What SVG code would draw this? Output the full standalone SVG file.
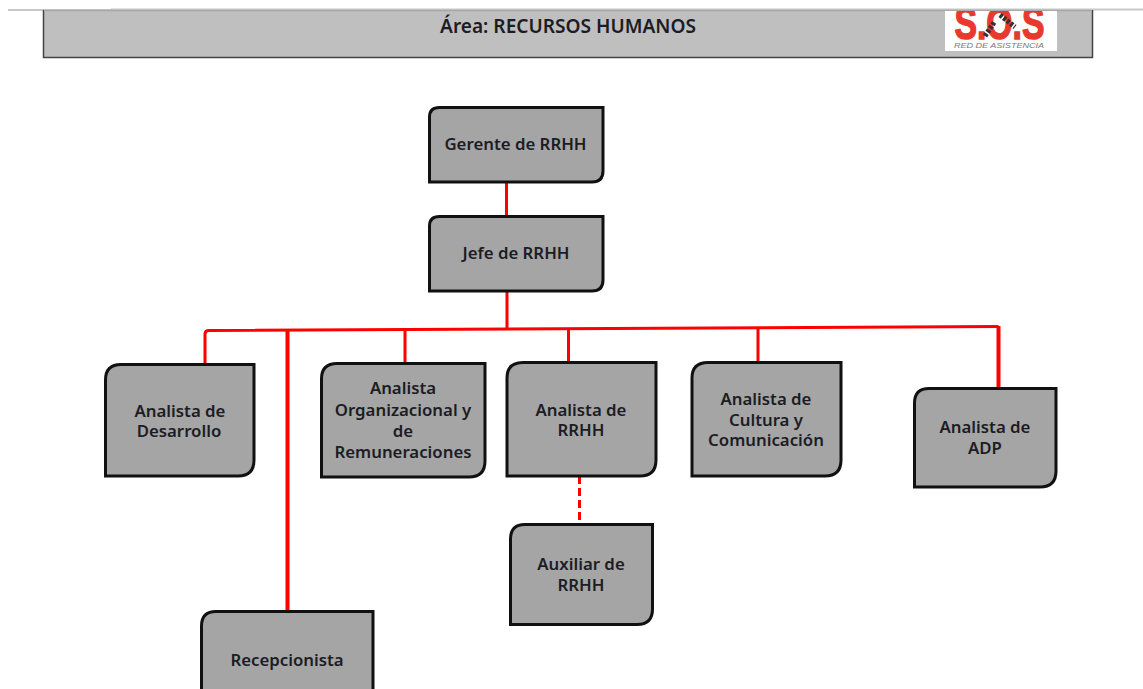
<svg xmlns="http://www.w3.org/2000/svg" width="1143" height="689" viewBox="0 0 1143 689">
<style>
.box{fill:#a5a5a5;stroke:#111;stroke-width:3}
.lbl{font-family:"Noto Sans","DejaVu Sans",sans-serif;font-weight:600;font-size:16.800px;fill:#1c1c24;text-anchor:middle}
.ln{fill:none;stroke:#ff0000;stroke-width:3}
.thick{stroke-width:4}
</style>
<rect width="1143" height="689" fill="#fff"/>
<g id="header">
<path d="M8 10H111M111 9.500H1143" stroke="#c8c8c8" stroke-width="2" fill="none"/>
<rect x="43.500" y="10.500" width="1049" height="47" fill="#bfbfbf" stroke="none"/>
<path d="M43.500 10V57.500H1092.500V10" fill="none" stroke="#444" stroke-width="1.500"/>
<path d="M44 10.500H1092" stroke="#a8a8a8" stroke-width="1.500" fill="none"/>
<text x="568" y="33" font-family="Noto Sans,DejaVu Sans,sans-serif" font-weight="600" font-size="19.100" fill="#1c1c24" text-anchor="middle">Área: RECURSOS HUMANOS</text>
</g>
<g id="logo">
<clipPath id="lc"><rect x="945" y="11" width="112" height="40"/></clipPath>
<rect x="945" y="11" width="112" height="40" fill="#fff"/>
<g clip-path="url(#lc)">
<text x="999.500" y="39" font-family="Liberation Sans,sans-serif" font-weight="700" font-size="46" fill="#e8392e" stroke="#e8392e" stroke-width="1.500" text-anchor="middle" textLength="90" lengthAdjust="spacingAndGlyphs">S.O.S</text>
<path d="M985 36L995 21M1000 15L1015 27" stroke="#333" stroke-width="5" stroke-dasharray="3 1.500" fill="none"/>
</g>
<text x="999" y="48" font-family="Liberation Sans,sans-serif" font-style="italic" font-size="8" fill="#777" text-anchor="middle" textLength="90" lengthAdjust="spacingAndGlyphs">RED DE ASISTENCIA</text>
</g>
<g id="connectors">
<path class="ln" d="M506.500 182V216M507 291V328"/>
<path class="ln" d="M205 364V334Q205 330.500 209 330.500L998.500 326.500"/>
<path class="ln thick" d="M998.500 326V388M287.500 330V611"/>
<path class="ln" d="M405 329.500V363M568.500 328.500V362M758 327.500V362"/>
<path class="ln" d="M579.500 476V524" stroke-dasharray="8 4"/>
</g>
<g id="n-gerente"><path class="box" d="M429.500 182V117Q429.500 107.500 439.500 107.500H603V171Q603 182 592 182Z"/><text class="lbl" x="515.500" y="150">Gerente de RRHH</text></g>
<g id="n-jefe"><path class="box" d="M429.500 291V226Q429.500 216.500 439.500 216.500H603V280Q603 291 592 291Z"/><text class="lbl" x="516" y="259">Jefe de RRHH</text></g>
<g id="n-desarrollo"><path class="box" d="M105.500 476V380Q105.500 364.500 121 364.500H254V460Q254 476 238 476Z"/><text class="lbl"><tspan x="180" y="417">Analista de</tspan><tspan x="179" y="437">Desarrollo</tspan></text></g>
<g id="n-org"><path class="box" d="M321.500 477V379Q321.500 363.500 337 363.500H485V461Q485 477 469 477Z"/><text class="lbl"><tspan x="403" y="394">Analista</tspan><tspan x="403" y="416">Organizacional y</tspan><tspan x="403" y="437">de</tspan><tspan x="403" y="458">Remuneraciones</tspan></text></g>
<g id="n-rrhh"><path class="box" d="M507 476V378Q507 362.500 523 362.500H656V460Q656 476 640 476Z"/><text class="lbl"><tspan x="581" y="416">Analista de</tspan><tspan x="581" y="436">RRHH</tspan></text></g>
<g id="n-cultura"><path class="box" d="M692 476V378Q692 362.500 708 362.500H841V460Q841 476 825 476Z"/><text class="lbl"><tspan x="766" y="405">Analista de</tspan><tspan x="766" y="426">Cultura y</tspan><tspan x="766" y="446">Comunicación</tspan></text></g>
<g id="n-adp"><path class="box" d="M914.500 487V403Q914.500 388.500 929 388.500H1056V471Q1056 487 1040 487Z"/><text class="lbl"><tspan x="985" y="433">Analista de</tspan><tspan x="985" y="454">ADP</tspan></text></g>
<g id="n-auxiliar"><path class="box" d="M510.500 624.500V539Q510.500 524.500 525 524.500H652.500V609Q652.500 624.500 637 624.500Z"/><text class="lbl"><tspan x="581" y="570">Auxiliar de</tspan><tspan x="581" y="591">RRHH</tspan></text></g>
<g id="n-recep"><path class="box" d="M201.500 695V626Q201.500 611.500 216 611.500H373V695"/><text class="lbl" x="287" y="666">Recepcionista</text></g>
</svg>
